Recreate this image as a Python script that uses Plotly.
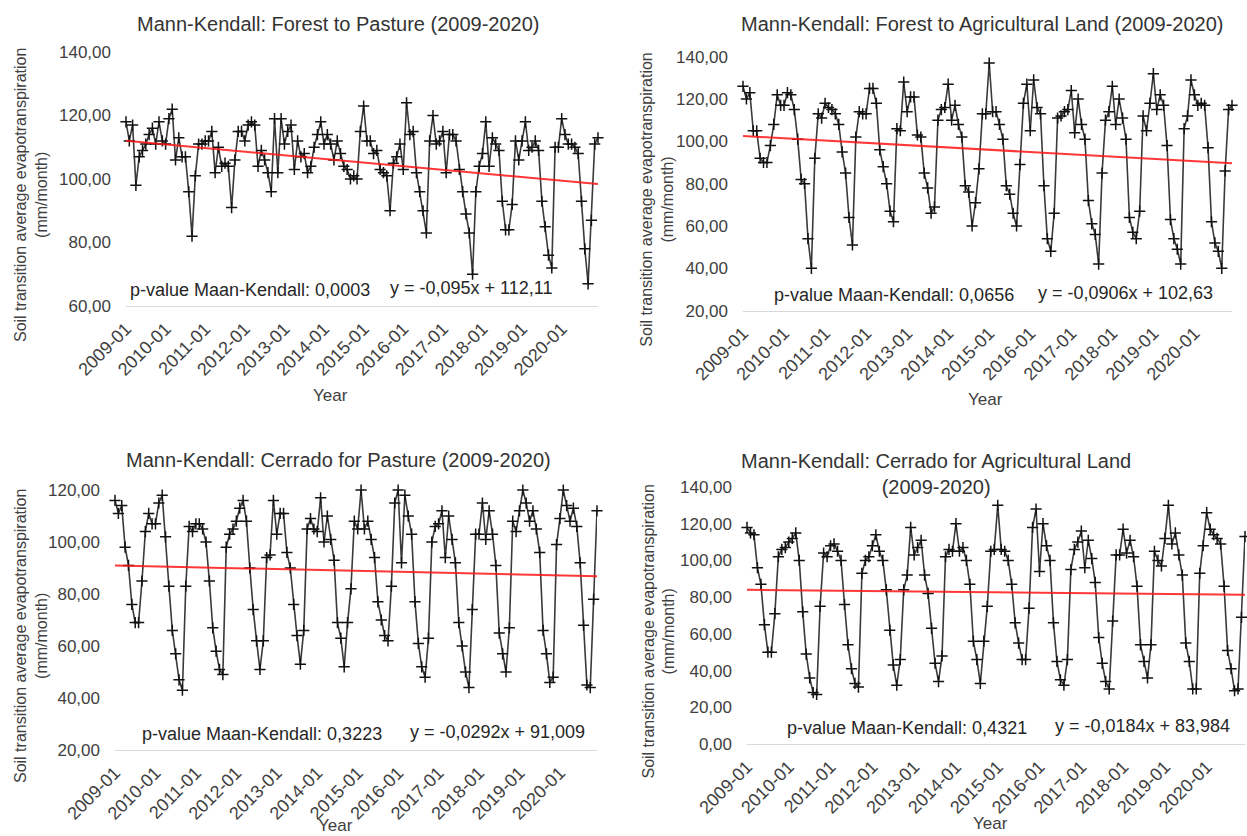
import plotly.graph_objects as go

W, H = 1247, 836

MONTHS = [f"{y}-{m:02d}" for y in range(2009, 2021) for m in range(1, 13)]
YEAR_TICKS = [f"{y}-01" for y in range(2009, 2021)]

FOREST_PASTURE = [
    118, 112, 117, 98, 107, 109, 111, 114, 116, 111, 118, 112,
    111, 119, 122, 106, 113, 107, 107, 96, 82, 101, 111, 111,
    112, 112, 115, 102, 110, 104, 105, 104, 91, 106, 115, 115,
    112, 117, 118, 117, 104, 109, 106, 102, 96, 119, 102, 119,
    111, 115, 117, 103, 112, 107, 108, 102, 104, 110, 114, 118,
    111, 114, 111, 106, 112, 108, 104, 103, 100, 101, 100, 115,
    123, 112, 112, 108, 109, 103, 102, 101, 90, 105, 107, 111,
    103, 124, 114, 115, 102, 96, 90, 83, 112, 120, 111, 112,
    115, 102, 114, 114, 112, 103, 96, 89, 83, 70, 96, 104,
    108, 118, 104, 113, 111, 109, 93, 84, 84, 92, 112, 106,
    112, 118, 109, 110, 112, 109, 93, 85, 76, 72, 110, 110,
    119, 114, 111, 111, 110, 108, 93, 78, 67, 87, 111, 113,
]

FOREST_AGRI = [
    126, 120, 123, 105, 105, 92, 90, 90, 98, 108, 122, 117,
    117, 123, 122, 115, 101, 82, 80, 54, 40, 92, 113, 111,
    118, 116, 115, 113, 108, 95, 85, 64, 51, 102, 114, 113,
    113, 125, 125, 118, 96, 88, 80, 67, 62, 106, 105, 128,
    114, 121, 121, 103, 102, 85, 78, 66, 69, 110, 115, 116,
    127, 110, 117, 108, 102, 79, 76, 60, 71, 87, 113, 113,
    137, 114, 114, 108, 101, 79, 75, 66, 60, 89, 118, 127,
    105, 129, 116, 113, 79, 54, 48, 66, 111, 112, 114, 115,
    124, 104, 120, 108, 101, 72, 61, 56, 42, 85, 110, 114,
    126, 108, 120, 111, 101, 64, 57, 54, 67, 112, 105, 118,
    132, 115, 122, 117, 98, 63, 54, 49, 42, 106, 112, 129,
    122, 117, 118, 117, 97, 62, 52, 48, 40, 86, 115, 117,
]

CERRADO_PASTURE = [
    116, 111, 114, 98, 91, 76, 69, 69, 85, 104, 111, 107,
    107, 115, 118, 102, 83, 66, 57, 47, 43, 83, 106, 104,
    107, 107, 105, 100, 85, 67, 58, 51, 49, 98, 103, 105,
    108, 113, 116, 108, 90, 74, 62, 51, 62, 94, 95, 116,
    103, 111, 111, 96, 90, 76, 64, 53, 66, 105, 109, 105,
    104, 117, 100, 110, 101, 93, 69, 63, 52, 69, 82, 108,
    105, 120, 105, 108, 101, 94, 77, 70, 64, 62, 83, 115,
    120, 92, 118, 110, 103, 77, 61, 52, 48, 63, 100, 106,
    107, 112, 94, 110, 101, 92, 69, 60, 50, 44, 74, 103,
    103, 115, 101, 112, 103, 91, 65, 57, 50, 67, 108, 104,
    112, 120, 115, 108, 112, 105, 96, 66, 57, 46, 48, 99,
    109, 120, 114, 108, 113, 106, 92, 68, 45, 44, 78, 112,
]

CERRADO_AGRI = [
    118, 115, 114, 96, 87, 65, 50, 50, 71, 102, 106, 107,
    110, 112, 115, 100, 72, 49, 36, 28, 27, 75, 104, 102,
    108, 109, 105, 100, 76, 54, 41, 33, 31, 93, 100, 102,
    108, 114, 105, 100, 84, 62, 43, 32, 46, 84, 92, 118,
    103, 107, 111, 92, 82, 63, 44, 34, 48, 102, 106, 105,
    120, 105, 107, 100, 87, 56, 46, 33, 56, 75, 105, 106,
    130, 106, 105, 100, 87, 66, 55, 46, 46, 74, 118, 128,
    94, 120, 108, 100, 66, 45, 35, 32, 46, 95, 106, 110,
    116, 96, 111, 101, 88, 58, 44, 34, 30, 67, 103, 103,
    117, 104, 111, 102, 86, 54, 45, 36, 54, 105, 100, 97,
    112, 130, 109, 115, 103, 92, 55, 45, 30, 30, 93, 108,
    126, 117, 114, 112, 109, 86, 51, 41, 29, 30, 69, 113,
]

SERIES = [FOREST_PASTURE, FOREST_AGRI, CERRADO_PASTURE, CERRADO_AGRI]
TITLES = [
    "Mann-Kendall: Forest to Pasture (2009-2020)",
    "Mann-Kendall: Forest to Agricultural Land (2009-2020)",
    "Mann-Kendall: Cerrado for Pasture (2009-2020)",
    "Mann-Kendall: Cerrado for Agricultural Land<br>(2009-2020)",
]
P_VALUES = ["0,0003", "0,0656", "0,3223", "0,4321"]
SLOPES = [-0.095, -0.0906, -0.0292, -0.0184]
INTERCEPTS = [112.11, 102.63, 91.009, 83.984]
EQUATIONS = [
    "y = -0,095x + 112,11",
    "y = -0,0906x + 102,63",
    "y = -0,0292x + 91,009",
    "y = -0,0184x + 83,984",
]
Y_TICKS = [
    [60, 80, 100, 120, 140],
    [20, 40, 60, 80, 100, 120, 140],
    [20, 40, 60, 80, 100, 120],
    [0, 20, 40, 60, 80, 100, 120, 140],
]
Y_TITLE = "Soil transition average evapotranspiration<br>(mm/month)"

# layout geometry in pixels: (left, right, top, bottom) of each plot area
BOXES = [
    (126, 598, 52, 306),
    (743, 1232, 56.7, 310.6),
    (115, 597, 490, 750),
    (747, 1245, 487, 744),
]
TITLE_POS = [(338, 24), (982, 24), (338, 460), (936, 474)]
YEAR_POS = [(330, 396), (985, 399), (335, 825), (990, 823)]
YTITLE_X = [31, 657, 31, 658]
PVAL_X = [128, 772, 140, 785]
EQ_CX = [471, 1125, 497, 1142]

FONT = "Liberation Sans, Arial, sans-serif"
TXT = "#404040"


def px(x):
    return x / W


def py(y):
    return 1 - y / H


def fmt(v):
    return f"{v:.2f}".replace(".", ",")


fig = go.Figure()
layout = dict(
    width=W, height=H, margin=dict(l=0, r=0, t=0, b=0, autoexpand=False),
    paper_bgcolor="white", plot_bgcolor="white", showlegend=False,
    font=dict(family=FONT, color=TXT),
)
annotations = []

for i, (vals, box) in enumerate(zip(SERIES, BOXES)):
    n = i + 1
    xa = "x" if n == 1 else f"x{n}"
    ya = "y" if n == 1 else f"y{n}"
    l, r, t, b = box
    fig.add_trace(go.Scatter(
        x=MONTHS, y=vals, xaxis=xa, yaxis=ya, mode="lines+markers",
        line=dict(color="#3a3a3a", width=1.6),
        marker=dict(symbol="cross-thin", size=8, line=dict(color="#111111", width=1.5)),
        cliponaxis=False,
    ))
    a, c = SLOPES[i], INTERCEPTS[i]
    fig.add_trace(go.Scatter(
        x=[MONTHS[0], MONTHS[-1]], y=[a * 1 + c, a * len(vals) + c],
        xaxis=xa, yaxis=ya, mode="lines",
        line=dict(color="rgba(255,20,20,0.85)", width=2),
        cliponaxis=False,
    ))
    ymin, ymax = Y_TICKS[i][0], Y_TICKS[i][-1]
    xkey = "xaxis" if n == 1 else f"xaxis{n}"
    ykey = "yaxis" if n == 1 else f"yaxis{n}"
    layout[xkey] = dict(
        domain=[px(l), px(r)], anchor=ya, type="category", automargin=False,
        range=[0, len(vals) - 1], tickmode="array", tickvals=YEAR_TICKS,
        ticktext=YEAR_TICKS, tickangle=-45, showgrid=False, zeroline=False,
        showline=True, linecolor="#d9d9d9", linewidth=1.3, ticks="",
        tickfont=dict(size=18, color=TXT, family=FONT), ticklabelstandoff=4,
    )
    layout[ykey] = dict(
        domain=[py(b), py(t)], anchor=xa, range=[ymin, ymax], automargin=False,
        tickmode="array", tickvals=Y_TICKS[i],
        ticktext=[fmt(v) for v in Y_TICKS[i]], showgrid=False, zeroline=False,
        showline=False, ticks="", tickfont=dict(size=17, color=TXT, family=FONT),
        ticklabelstandoff=14,
    )
    tx, ty = TITLE_POS[i]
    annotations.append(dict(
        text=TITLES[i], x=px(tx), y=py(ty), xref="paper", yref="paper",
        showarrow=False, xanchor="center", yanchor="middle",
        font=dict(size=20, color="#333333", family=FONT),
    ))
    yx, yy = YEAR_POS[i]
    annotations.append(dict(
        text="Year", x=px(yx), y=py(yy), xref="paper", yref="paper",
        showarrow=False, xanchor="center", yanchor="middle",
        font=dict(size=17, color=TXT, family=FONT),
    ))
    annotations.append(dict(
        text=Y_TITLE, x=px(YTITLE_X[i]), y=py((t + b) / 2 + 16), xref="paper",
        yref="paper", showarrow=False, textangle=-90, xanchor="center",
        yanchor="middle", font=dict(size=16, color=TXT, family=FONT),
    ))
    annotations.append(dict(
        text=f"p-value Maan-Kendall: {P_VALUES[i]}", x=px(PVAL_X[i]),
        y=py(b - 16), xref="paper", yref="paper", showarrow=False,
        xanchor="left", yanchor="middle",
        font=dict(size=18, color="#262626", family=FONT),
    ))
    annotations.append(dict(
        text=EQUATIONS[i], x=px(EQ_CX[i]), y=py(b - 18), xref="paper",
        yref="paper", showarrow=False, xanchor="center", yanchor="middle",
        font=dict(size=18, color="#262626", family=FONT),
    ))

layout["annotations"] = annotations
fig.update_layout(**layout)
fig.write_html("out.html")
